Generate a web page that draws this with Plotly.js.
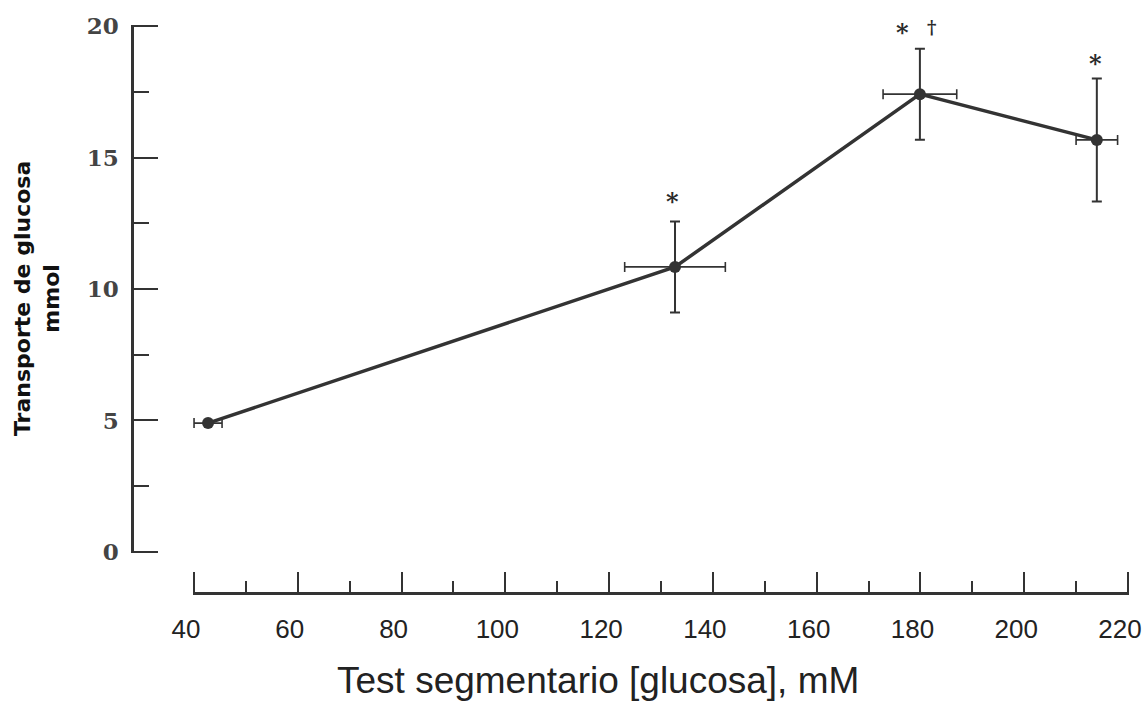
<!DOCTYPE html>
<html>
<head>
<meta charset="utf-8">
<script src="https://cdn.plot.ly/plotly-3.0.1.min.js"></script>
<style>html,body{margin:0;padding:0;background:#fff;}#chart{width:1147px;height:702px;}</style>
</head>
<body>
<div id="chart"></div>
<script>
// Data
const glucose = [42.7, 132.7, 179.9, 214];       // Test segmentario [glucosa], mM
const transport = [4.9, 10.84, 17.41, 15.67];    // Transporte de glucosa, mmol
const glucoseErr = [2.7, 9.7, 7.1, 4];
const transportErr = [0, 1.73, 1.73, 2.34];
const markText = ["*", "*", "\u2020", "*"];
const markX = [132.3, 176.6, 182.2, 213.8];
const markY = [13.5, 19.96, 19.96, 18.78];
const yTickVals = [0, 5, 10, 15, 20];
const xTickVals = [40, 60, 80, 100, 120, 140, 160, 180, 200, 220];
const xTickText = ["40", "60", "80", "100", "120", "140", "160", "180", "200", "220"];

const ink = '#333';
const trace = {
  x: glucose, y: transport, type: 'scatter', mode: 'lines+markers',
  line: {color: ink, width: 3.5},
  marker: {color: ink, size: 12},
  error_y: {type: 'data', array: transportErr, visible: true, color: ink, thickness: 2, width: 5},
  error_x: {type: 'data', array: glucoseErr, visible: true, color: ink, thickness: 1.6, width: 5},
  hoverinfo: 'x+y'
};

const W = 1147, H = 702;
// pixel anchors of the reference frame
const px40 = 194, px220 = 1128, pyTop = 26, py0 = 552, xAxisPy = 593, yAxisPx = 132;
const ml = 100, mr = W - px220 - 1, mt = pyTop - 1, mb = H - xAxisPy;
const pw = W - ml - mr, ph = H - mt - mb;

const annotations = markText.map((t, i) => ({
  x: markX[i], y: markY[i], xref: 'x', yref: 'y', text: '<b>' + t + '</b>', showarrow: false,
  font: {family: 'DejaVu Serif', size: t === '*' ? 24 : 18, color: '#2a2a2a'},
  yanchor: 'middle', yshift: t === '*' ? -5 : 0
}));
annotations.push({
  xref: 'paper', yref: 'paper', x: (598 - ml) / pw, y: (H - 680 - mb) / ph,
  text: 'Test segmentario [glucosa], mM', showarrow: false,
  font: {family: 'Liberation Sans', size: 37, color: '#222'}, xanchor: 'center', yanchor: 'middle'
});
annotations.push({
  xref: 'paper', yref: 'paper', x: (37 - ml) / pw, y: (H - 299 - mb) / ph,
  text: '<b>Transporte de glucosa<br>mmol</b>', showarrow: false, textangle: -90,
  font: {family: 'DejaVu Sans', size: 22, color: '#111'}, xanchor: 'center', yanchor: 'middle'
});

const layout = {
  width: W, height: H,
  margin: {l: ml, r: mr, t: mt, b: mb},
  paper_bgcolor: '#fff', plot_bgcolor: '#fff',
  showlegend: false,
  xaxis: {
    domain: [(px40 - 1 - ml) / pw, 1], range: [39.8, 220.2], anchor: 'free', position: 0,
    showline: true, linecolor: ink, linewidth: 2.5, showgrid: false, zeroline: false,
    tickmode: 'array', tickvals: xTickVals, ticktext: xTickText,
    ticks: 'inside', ticklen: 20, tickwidth: 2.2, tickcolor: ink,
    ticklabelstandoff: 12, ticklabelshift: -8, ticklabeloverflow: 'allow',
    tickfont: {family: 'Liberation Sans', size: 26, color: '#222'},
    minor: {dtick: 10, tick0: 0, ticks: 'inside', ticklen: 11, tickwidth: 2, tickcolor: ink, showgrid: false}
  },
  yaxis: {
    domain: [(xAxisPy - py0 - 1) / ph, 1], range: [-0.04, 20.04], anchor: 'free', position: (yAxisPx - ml) / pw,
    showline: true, linecolor: ink, linewidth: 2.5, showgrid: false, zeroline: false,
    tickmode: 'array', tickvals: yTickVals, ticks: 'inside', ticklen: 24, tickwidth: 2.2, tickcolor: ink,
    ticklabelstandoff: 8, ticklabeloverflow: 'allow',
    tickfont: {family: 'DejaVu Serif', size: 23, color: '#444', weight: 'bold'},
    minor: {dtick: 2.5, tick0: 0, ticks: 'inside', ticklen: 15, tickwidth: 2, tickcolor: ink, showgrid: false}
  },
  annotations: annotations
};

Plotly.newPlot('chart', [trace], layout, {displayModeBar: false});
</script>
</body>
</html>
